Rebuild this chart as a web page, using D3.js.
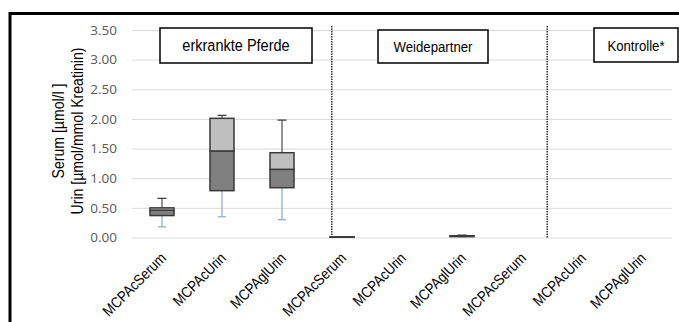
<!DOCTYPE html>
<html>
<head>
<meta charset="utf-8">
<script src="https://cdn.jsdelivr.net/npm/d3@7"></script>
<style>
  html, body { margin: 0; padding: 0; background: #fff; }
  svg { display: block; }
</style>
</head>
<body>
<svg id="chart" width="679" height="322"></svg>
<script>
// Categories along the x axis (three groups of three measurements)
const categories = ["MCPAcSerum", "MCPAcUrin", "MCPAglUrin",
                    "MCPAcSerum", "MCPAcUrin", "MCPAglUrin",
                    "MCPAcSerum", "MCPAcUrin", "MCPAglUrin"];
// Box statistics per category (null = no data)
const whiskerLow  = [0.18, 0.35, 0.30, 0.005, null, 0.010, null, null, null];
const quart1      = [0.37, 0.79, 0.84, 0.005, null, 0.015, null, null, null];
const medians     = [0.46, 1.46, 1.15, 0.008, null, 0.022, null, null, null];
const quart3      = [0.50, 2.01, 1.43, 0.010, null, 0.030, null, null, null];
const whiskerHigh = [0.66, 2.06, 1.98, 0.010, null, 0.040, null, null, null];
// Y-axis ticks
const yTicks = [0, 0.5, 1, 1.5, 2, 2.5, 3, 3.5];
// Group captions
const groupLabels = ["erkrankte Pferde", "Weidepartner", "Kontrolle*"];
const yTitle = ["Serum [µmol/l ]", "Urin [µmol/mmol Kreatinin)"];

const FONT = "'Liberation Sans', Arial, sans-serif";
const NARROW = 0.88; // horizontal condensing of the label font

const svg = d3.select("#chart");
const plot = { left: 132, right: 672, top: 30, bottom: 237.5 };

const x = d3.scaleBand().domain(d3.range(categories.length))
  .range([plot.left, plot.right]).paddingInner(0.6).paddingOuter(0.3);
const xPos = d3.scaleLinear().domain([0, categories.length]).range([plot.left, plot.right]);
const y = d3.scaleLinear().domain([0, 3.5]).range([plot.bottom, plot.top]);

// Outer frame
svg.append("rect").attr("x", 10).attr("y", 13.5).attr("width", 690).attr("height", 330)
  .attr("fill", "none").attr("stroke", "#000").attr("stroke-width", 3);

// Gridlines + tick labels
const yAxis = d3.axisLeft(y).tickValues(yTicks).tickFormat(d3.format(".2f"))
  .tickSize(-(plot.right - plot.left)).tickPadding(15);
const gy = svg.append("g").attr("transform", `translate(${plot.left},0)`).call(yAxis);
gy.select(".domain").remove();
gy.selectAll(".tick line").attr("stroke", "#d9d9d9").attr("stroke-width", 1);
gy.selectAll(".tick text").attr("fill", "#595959")
  .style("font-family", "'Open Sans', 'Liberation Sans', sans-serif").style("font-size", "13.5px");

// Y-axis title (two lines)
const yt = svg.append("text").attr("transform", `translate(64,131) rotate(-90) scale(${NARROW},1)`)
  .attr("text-anchor", "middle").style("font-family", FONT)
  .style("font-size", "16px").attr("fill", "#000");
yTitle.forEach((t, i) => yt.append("tspan").attr("x", 0).attr("dy", i === 0 ? 0 : 19).text(t));

// X-axis labels, rotated
svg.append("g").selectAll("text").data(categories).join("text")
  .attr("transform", (d, i) =>
    `translate(${x(i) + x.bandwidth() / 2 + 5},259) rotate(-45) scale(${NARROW},1)`)
  .attr("text-anchor", "end")
  .style("font-family", FONT).style("font-size", "15px")
  .attr("fill", "#000").text(d => d);

// Group separators (dotted)
const separators = [3.33, 6.92];
svg.append("g").selectAll("line").data(separators).join("line")
  .attr("x1", d => xPos(d)).attr("x2", d => xPos(d))
  .attr("y1", 26).attr("y2", plot.bottom)
  .attr("stroke", "#333").attr("stroke-width", 1.5).attr("stroke-dasharray", "1.5,1");

// Boxes
const idx = d3.range(categories.length).filter(i => medians[i] !== null);
const boxes = svg.append("g").selectAll("g").data(idx).join("g");
const cx = i => x(i) + x.bandwidth() / 2;
boxes.append("line").attr("x1", cx).attr("x2", cx)
  .attr("y1", i => y(quart1[i])).attr("y2", i => y(whiskerLow[i]))
  .attr("stroke", "#8fb1c4").attr("stroke-width", 1.3);
boxes.append("line").attr("x1", i => cx(i) - 4).attr("x2", i => cx(i) + 4)
  .attr("y1", i => y(whiskerLow[i])).attr("y2", i => y(whiskerLow[i]))
  .attr("stroke", "#8fb1c4").attr("stroke-width", 1.3);
boxes.append("line").attr("x1", cx).attr("x2", cx)
  .attr("y1", i => y(quart3[i])).attr("y2", i => y(whiskerHigh[i]))
  .attr("stroke", "#595959").attr("stroke-width", 1.3);
boxes.append("line").attr("x1", i => cx(i) - 4.5).attr("x2", i => cx(i) + 4.5)
  .attr("y1", i => y(whiskerHigh[i])).attr("y2", i => y(whiskerHigh[i]))
  .attr("stroke", "#404040").attr("stroke-width", 1.3);
boxes.append("rect").attr("x", i => x(i)).attr("width", x.bandwidth())
  .attr("y", i => y(medians[i])).attr("height", i => y(quart1[i]) - y(medians[i]))
  .attr("fill", "#808080").attr("stroke", "#3a3a3a").attr("stroke-width", 1.5);
boxes.append("rect").attr("x", i => x(i)).attr("width", x.bandwidth())
  .attr("y", i => y(quart3[i])).attr("height", i => y(medians[i]) - y(quart3[i]))
  .attr("fill", "#bfbfbf").attr("stroke", "#3a3a3a").attr("stroke-width", 1.5);

// Group caption boxes
const captions = [
  { x: 160, y: 28, w: 152, h: 35, size: 16.5 },
  { x: 378, y: 30, w: 110, h: 33, size: 15 },
  { x: 594, y: 28, w: 84, h: 34, size: 15 }
];
captions.forEach((c, i) => {
  svg.append("rect").attr("x", c.x).attr("y", c.y).attr("width", c.w).attr("height", c.h)
    .attr("fill", "#fff").attr("stroke", "#000").attr("stroke-width", 1.5);
  svg.append("text")
    .attr("transform", `translate(${c.x + c.w / 2},${c.y + c.h / 2 + 5.5}) scale(${NARROW},1)`)
    .attr("text-anchor", "middle")
    .style("font-family", FONT).style("font-size", c.size + "px")
    .attr("fill", "#000").text(groupLabels[i]);
});
</script>
</body>
</html>
